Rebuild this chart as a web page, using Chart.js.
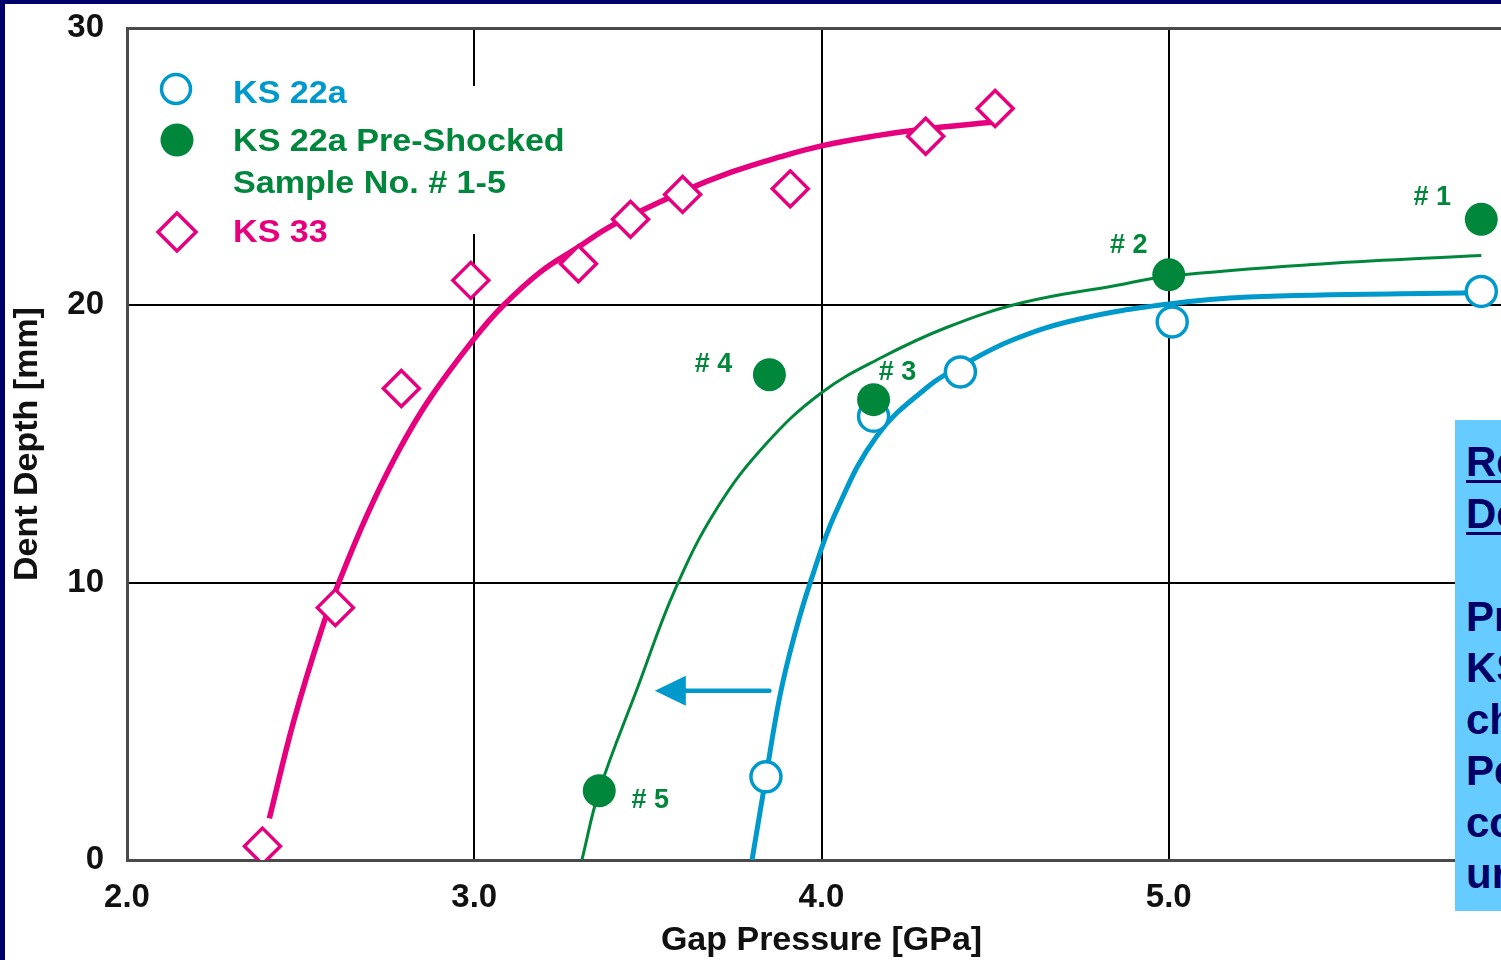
<!DOCTYPE html>
<html>
<head>
<meta charset="utf-8">
<title>Dent Depth vs Gap Pressure</title>
<script src="https://cdn.jsdelivr.net/npm/chart.js@4.4.1/dist/chart.umd.min.js"></script>
<style>
    html, body { margin: 0; padding: 0; background: #fff; overflow: hidden; }
    #wrap { position: relative; width: 1501px; height: 960px; overflow: hidden; background: #fff; }
    #chart { position: absolute; left: 0; top: 0; }
    .frame { position: absolute; background: #00006a; }
    #note {
        position: absolute; left: 1455px; top: 420px; width: 80px; height: 491px;
        background: #66ccff; color: #000066;
        font: bold 42px "Liberation Sans", Arial, sans-serif;
        line-height: 51.5px; padding: 16px 0 0 11px; box-sizing: border-box;
        white-space: nowrap;
    }
    #note u { text-decoration-thickness: 3px; text-underline-offset: 4px; }
</style>
</head>
<body>
<div id="wrap">
    <canvas id="chart" width="1540" height="960"></canvas>
    <div class="frame" style="left:0;top:0;width:5px;height:960px"></div>
    <div class="frame" style="left:0;top:0;width:1501px;height:4px"></div>
    <div id="note"><u>Re</u><br><u>De</u><br><br>Pr<br>KS<br>ch<br>Pe<br>co<br>ur</div>
</div>
<script>
// Measured points
const ks22aX = [3.84, 4.15, 4.40, 5.01, 5.90];
const ks22aY = [3.0, 16.0, 17.6, 19.4, 20.5];

const preX = [5.90, 5.00, 4.15, 3.85, 3.36];
const preY = [23.1, 21.1, 16.6, 17.5, 2.5];
const preLabels = ['# 1', '# 2', '# 3', '# 4', '# 5'];

const ks33X = [2.39, 2.60, 2.79, 2.99, 3.30, 3.45, 3.60, 3.91, 4.30, 4.50];
const ks33Y = [0.5, 9.1, 17.0, 20.9, 21.5, 23.1, 24.0, 24.2, 26.1, 27.1];

// Fitted curves
const ks33FitX = [2.41, 2.48, 2.56, 2.61, 2.69, 2.78, 2.87, 3.00, 3.08, 3.19, 3.30, 3.40, 3.60, 3.74, 3.88, 4.00, 4.15, 4.29, 4.49];
const ks33FitY = [1.5, 5.0, 8.3, 10.0, 12.4, 14.7, 16.6, 18.8, 19.95, 21.2, 22.1, 22.9, 24.1, 24.8, 25.35, 25.75, 26.1, 26.35, 26.6];

const preFitX = [3.31, 3.36, 3.47, 3.58, 3.70, 3.84, 4.00, 4.17, 4.36, 4.58, 4.84, 5.00, 5.45, 5.90];
const preFitY = [0.0, 2.5, 6.2, 9.8, 12.7, 15.0, 16.85, 18.1, 19.2, 20.1, 20.7, 21.05, 21.5, 21.8];

const ks22aFitX = [3.80, 3.84, 3.88, 3.92, 3.97, 4.04, 4.16, 4.31, 4.40, 4.55, 4.74, 5.00, 5.23, 5.87];
const ks22aFitY = [0.0, 3.0, 5.9, 8.0, 10.1, 12.5, 15.3, 17.1, 17.8, 18.75, 19.5, 20.05, 20.3, 20.45];

// Shift arrow (pressure from -> to, at depth)
const arrowFrom = 3.85;
const arrowTo = 3.52;
const arrowY = 6.1;

// Axis ticks
const xTicks = [2.0, 3.0, 4.0, 5.0];
const yTicks = [0, 10, 20, 30];

const FONT = '"Liberation Sans", Arial, sans-serif';
const CYAN = '#0099cc';
const GREEN = '#00873c';
const MAGENTA = '#e6007e';

// label offsets in px for "# n" tags
const labelOffsets = [[-49, -22], [-40, -29], [24, -27], [-56, -10], [51, 10]];

const toPoints = (xs, ys) => xs.map((x, i) => ({ x: x, y: ys[i] }));

// stretched text, the original lettering is wider than Arial
function wideText(ctx, text, x, y, sx) {
    ctx.save();
    ctx.translate(x, y);
    ctx.scale(sx, 1);
    ctx.fillText(text, 0, 0);
    ctx.restore();
}

const overlayPlugin = {
    id: 'overlay',
    beforeDatasetsDraw(chart) {
        // legend background hides the grid
        const ctx = chart.ctx;
        ctx.save();
        ctx.fillStyle = '#fff';
        ctx.fillRect(145, 86, 430, 148);
        ctx.restore();
    },
    afterDatasetsDraw(chart) {
        const { ctx, scales: { x, y } } = chart;
        ctx.save();

        // sample tags
        ctx.font = 'bold 27px ' + FONT;
        ctx.fillStyle = GREEN;
        ctx.textAlign = 'center';
        ctx.textBaseline = 'middle';
        preLabels.forEach((t, i) => {
            const [dx, dy] = labelOffsets[i];
            ctx.fillText(t, x.getPixelForValue(preX[i]) + dx, y.getPixelForValue(preY[i]) + dy);
        });

        // arrow
        const ay = y.getPixelForValue(arrowY);
        const ax0 = x.getPixelForValue(arrowFrom);
        const ax1 = x.getPixelForValue(arrowTo);
        ctx.strokeStyle = CYAN;
        ctx.fillStyle = CYAN;
        ctx.lineWidth = 4.5;
        ctx.lineCap = 'round';
        ctx.beginPath();
        ctx.moveTo(ax0, ay);
        ctx.lineTo(ax1 + 26, ay);
        ctx.stroke();
        ctx.beginPath();
        ctx.moveTo(ax1, ay);
        ctx.lineTo(ax1 + 31, ay - 15);
        ctx.lineTo(ax1 + 31, ay + 15);
        ctx.closePath();
        ctx.fill();

        // legend
        ctx.lineWidth = 3.5;
        ctx.strokeStyle = CYAN;
        ctx.fillStyle = '#fff';
        ctx.beginPath();
        ctx.arc(176, 89, 14.5, 0, Math.PI * 2);
        ctx.fill();
        ctx.stroke();

        ctx.fillStyle = GREEN;
        ctx.beginPath();
        ctx.arc(177, 140, 16.5, 0, Math.PI * 2);
        ctx.fill();

        ctx.strokeStyle = MAGENTA;
        ctx.fillStyle = '#fff';
        ctx.beginPath();
        ctx.moveTo(158, 232);
        ctx.lineTo(177, 213);
        ctx.lineTo(196, 232);
        ctx.lineTo(177, 251);
        ctx.closePath();
        ctx.fill();
        ctx.stroke();

        ctx.font = 'bold 31px ' + FONT;
        ctx.textAlign = 'left';
        ctx.textBaseline = 'alphabetic';
        ctx.fillStyle = CYAN;
        wideText(ctx, 'KS 22a', 233, 103, 1.1);
        ctx.fillStyle = GREEN;
        wideText(ctx, 'KS 22a Pre-Shocked', 233, 151, 1.1);
        wideText(ctx, 'Sample No. # 1-5', 233, 193, 1.1);
        ctx.fillStyle = MAGENTA;
        wideText(ctx, 'KS 33', 233, 242, 1.1);

        ctx.restore();
    }
};

const curve = (data, color, width, order) => ({
    data: data,
    showLine: true,
    borderColor: color,
    borderWidth: width,
    pointRadius: 0,
    tension: 0.4,
    order: order
});

new Chart(document.getElementById('chart'), {
    type: 'scatter',
    data: {
        datasets: [
            curve(toPoints(ks33FitX, ks33FitY), MAGENTA, 5.5, 10),
            curve(toPoints(preFitX, preFitY), GREEN, 3, 11),
            curve(toPoints(ks22aFitX, ks22aFitY), CYAN, 5, 12),
            {
                label: 'KS 22a',
                data: toPoints(ks22aX, ks22aY),
                pointStyle: 'circle',
                pointRadius: 15,
                borderWidth: 3.5,
                borderColor: CYAN,
                backgroundColor: '#fff',
                order: 5
            },
            {
                label: 'KS 22a Pre-Shocked',
                data: toPoints(preX, preY),
                pointStyle: 'circle',
                pointRadius: 16.5,
                borderWidth: 0,
                borderColor: GREEN,
                backgroundColor: GREEN,
                order: 2
            },
            {
                label: 'KS 33',
                data: toPoints(ks33X, ks33Y),
                pointStyle: 'rectRot',
                pointRadius: 18,
                borderWidth: 3.5,
                borderColor: MAGENTA,
                backgroundColor: '#fff',
                order: 3
            }
        ]
    },
    options: {
        responsive: false,
        animation: false,
        devicePixelRatio: 1,
        layout: { padding: { left: 0, top: 28, right: 24, bottom: 0 } },
        plugins: {
            legend: { display: false },
            tooltip: { enabled: false }
        },
        scales: {
            x: {
                type: 'linear',
                min: 2,
                max: 6,
                afterBuildTicks: (axis) => {
                    axis.ticks = xTicks.concat([6]).map(v => ({ value: v }));
                },
                afterFit: (axis) => {
                    axis.height = 100;
                    axis.paddingLeft = 0;
                    axis.paddingRight = 0;
                },
                grid: {
                    drawTicks: false,
                    color: (c) => c.tick && c.tick.value === 2 ? 'rgba(0,0,0,0)' : '#000',
                    lineWidth: 2
                },
                border: { color: '#4a4a4a', width: 3 },
                ticks: {
                    padding: 18,
                    color: '#111',
                    font: { family: FONT, size: 33, weight: 'bold' },
                    callback: (v) => xTicks.includes(v) ? v.toFixed(1) : ''
                },
                title: {
                    display: true,
                    text: 'Gap Pressure [GPa]',
                    color: '#111',
                    font: { family: FONT, size: 34, weight: 'bold', lineHeight: 1 },
                    padding: { top: 0, bottom: 2 }
                }
            },
            y: {
                type: 'linear',
                min: 0,
                max: 30,
                afterBuildTicks: (axis) => {
                    axis.ticks = yTicks.map(v => ({ value: v }));
                },
                afterFit: (axis) => {
                    axis.width = 127;
                    axis.paddingTop = 0;
                    axis.paddingBottom = 0;
                },
                grid: {
                    drawTicks: false,
                    color: (c) => {
                        if (!c.tick) return '#000';
                        if (c.tick.value === 0) return 'rgba(0,0,0,0)';
                        return c.tick.value === 30 ? '#4a4a4a' : '#000';
                    },
                    lineWidth: (c) => c.tick && c.tick.value === 30 ? 3 : 2
                },
                border: { color: '#4a4a4a', width: 3 },
                ticks: {
                    padding: 23,
                    color: '#111',
                    font: { family: FONT, size: 33, weight: 'bold' },
                    callback: (v) => String(v)
                },
                title: {
                    display: true,
                    text: 'Dent Depth [mm]',
                    color: '#111',
                    font: { family: FONT, size: 34, weight: 'bold', lineHeight: 1 },
                    padding: { top: 11, bottom: 0 }
                }
            }
        }
    },
    plugins: [overlayPlugin]
});
</script>
</body>
</html>
